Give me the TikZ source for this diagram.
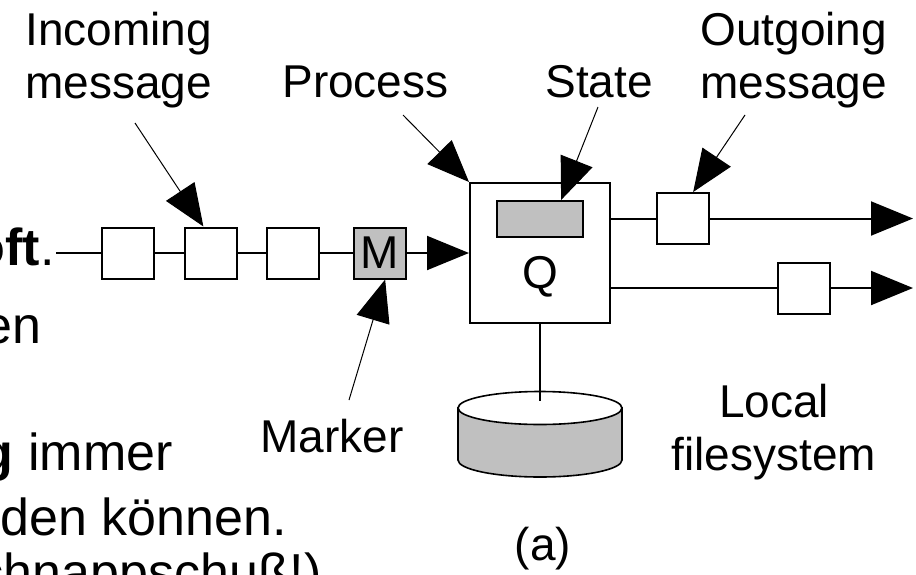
\documentclass[tikz,border=0pt]{standalone}
\usepackage{fontspec}
\setmainfont{Liberation Sans}
\usetikzlibrary{arrows.meta}
\definecolor{ink}{HTML}{000000}
\definecolor{shade}{HTML}{C0C0C0}

\begin{document}
\begin{tikzpicture}[
    x=0.5pt,
    y=-0.5pt,
    >={Triangle[length=21pt,width=17pt]},
    wire/.style={draw=ink, line width=1pt},
    flow/.style={wire, ->},
    pointer/.style={draw=ink, line width=0.5pt, ->},
    msg/.style={
        draw=ink,
        fill=white,
        line width=1pt,
        minimum width=26pt,
        minimum height=25.5pt,
        inner sep=0pt
    },
    lbl/.style={font=\fontsize{23}{26.5}\selectfont, inner sep=0pt},
    slide/.style={font=\fontsize{26}{30}\selectfont, inner sep=0pt, anchor=base east}
]
\useasboundingbox (0,0) rectangle (916,574);
\clip (0,0) rectangle (916,574);

% Left-over text of the slide, cut by the picture edge.
\node[slide] (lineA) at (55,265) {\textbf{oft}.};
\node[slide] (lineB) at (42,343) {en};
\node[slide] (lineC) at (173,470) {\textbf{g} immer};
\node[slide] (lineD) at (287,535) {den können.};
\node[slide] (lineE) at (322,590) {(Schnappschuß!)};

% Incoming channel with its marker.
\node[msg] (msgA) at (128,253) {};
\node[msg] (msgB) at (210.5,253) {};
\node[msg] (msgC) at (292.5,253) {};
\node[msg, fill=shade, lbl] (marker) at (380,253) {M};
\coordinate (feed) at (56,253);

% Process with its state.
\node[draw=ink, line width=1pt, minimum size=70pt, inner sep=0pt] (proc) at (540,253) {};
\node[draw=ink, fill=shade, line width=1pt, minimum width=43pt, minimum height=18pt,
    inner sep=0pt] (state) at (540,219) {};
\node[lbl] (qname) at (540,277) {Q};

\draw[wire] (feed) -- (msgA) -- (msgB) -- (msgC) -- (marker);
\draw[flow] (marker) -- (proc);

% Outgoing channels.
\node[msg] (outA) at (683,218.5) {};
\node[msg] (outB) at (803.5,288) {};
\coordinate (sinkA) at (913,218.5);
\coordinate (sinkB) at (913,288);
\draw[wire] (proc.east |- outA) -- (outA);
\draw[flow] (outA) -- (sinkA);
\draw[wire] (proc.east |- outB) -- (outB);
\draw[flow] (outB) -- (sinkB);

% Local filesystem.
\coordinate (disk) at (540,408);
\coordinate (diskport) at (540,401);
\filldraw[fill=shade, draw=ink, line width=0.8pt] (458,408) -- (458,460)
    arc[start angle=180, end angle=0, x radius=82, y radius=17] -- (622,408) -- cycle;
\filldraw[fill=white, draw=ink, line width=0.8pt] (disk) ellipse [x radius=82, y radius=16.5];
\draw[wire] (proc.south) -- (diskport);

% Labels and their pointers.
\node[lbl, anchor=base west, align=left] (lblIn) at (25,98) {Incoming\\message};
\node[lbl, anchor=base west] (lblProc) at (282,97) {Process};
\node[lbl, anchor=base west] (lblState) at (545,97) {State};
\node[lbl, anchor=base west, align=left] (lblOut) at (700,98) {Outgoing\\message};
\node[lbl, anchor=base west] (lblMarker) at (260,452) {Marker};
\node[lbl, anchor=base, align=center] (lblDisk) at (774,470) {Local\\filesystem};
\node[lbl, anchor=base] (lblA) at (543,560) {(a)};

\coordinate (inTail) at (135,123);
\coordinate (procTail) at (403,115);
\coordinate (stateTail) at (598,107);
\coordinate (outTail) at (745,115);
\coordinate (markTail) at (349,400);
\draw[pointer] (inTail) -- (msgB.105);
\draw[pointer] (procTail) -- (proc.north west);
\draw[pointer] (stateTail) -- (state.42);
\draw[pointer] (outTail) -- (outA.69);
\draw[pointer] (markTail) -- (marker.281);

\end{tikzpicture}
\end{document}
